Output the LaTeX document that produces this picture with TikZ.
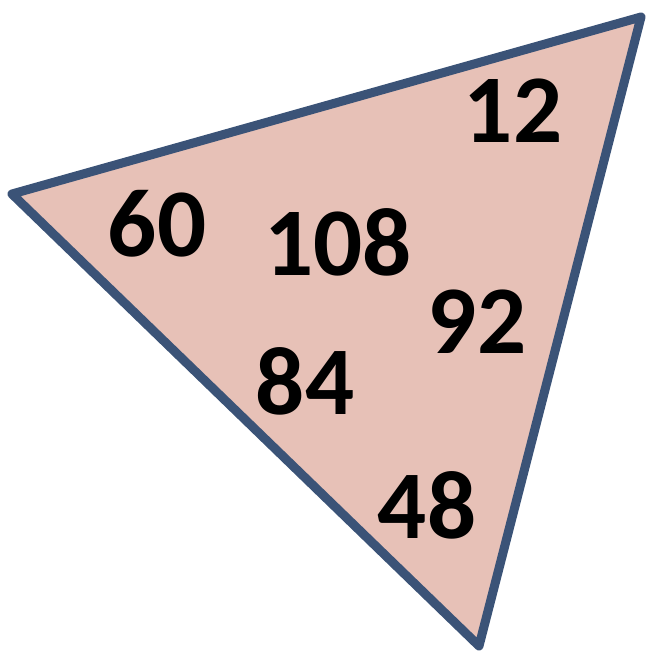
\documentclass[tikz,border=0pt]{standalone}
\usepackage{fontspec}
\setmainfont{Carlito}
\definecolor{trifill}{HTML}{E7C1B7}
\definecolor{triedge}{HTML}{3B5377}
\begin{document}
\begin{tikzpicture}[x=1pt,y=-1pt,
  num/.style={font=\fontsize{97}{97}\selectfont\bfseries, inner sep=0pt, anchor=center}]
\useasboundingbox (0,0) rectangle (647,653);
\coordinate (A) at (12,194);
\coordinate (B) at (641,17);
\coordinate (C) at (479,646);
\draw[fill=trifill, draw=triedge, line width=9pt, line join=round] (A) -- (B) -- (C) -- cycle;
\node[num] (n12) at (513,111) {12};
\node[num] (n60) at (157,224) {60};
\node[num] (n108) at (338,242) {108};
\node[num] (n92) at (477,322) {92};
\node[num] (n84) at (305,381) {84};
\node[num] (n48) at (427,505) {48};
\end{tikzpicture}
\end{document}
